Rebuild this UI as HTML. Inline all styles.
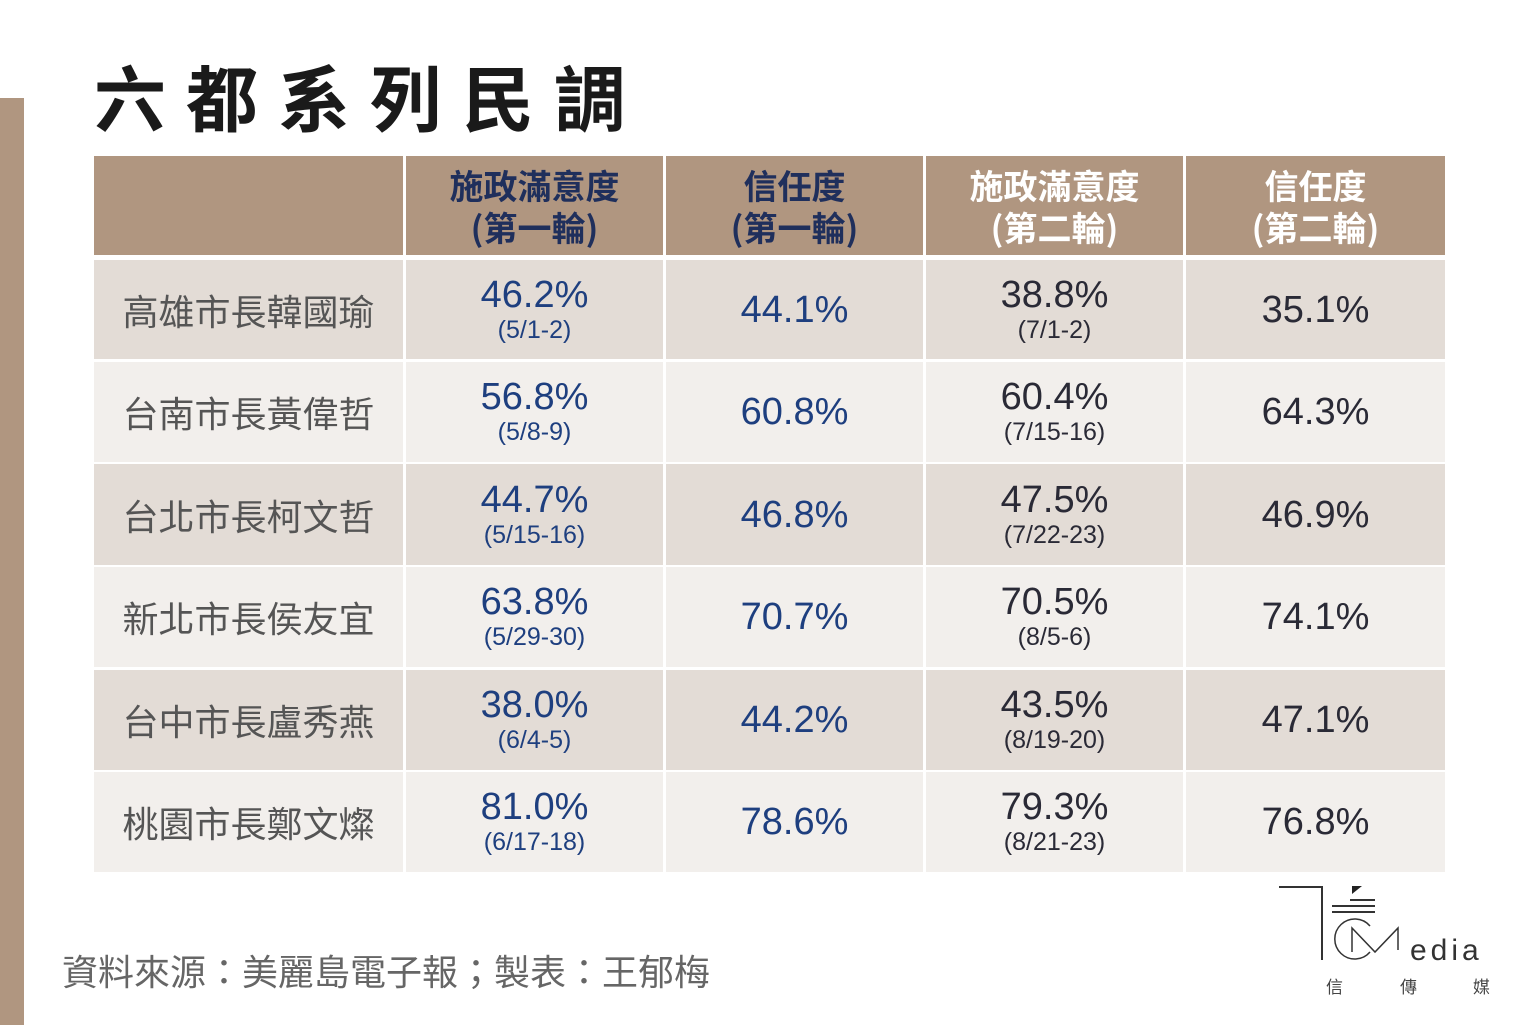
<!DOCTYPE html>
<html><head><meta charset="utf-8"><style>
*{margin:0;padding:0;box-sizing:border-box}
body{width:1536px;height:1025px;background:#fff;position:relative;overflow:hidden;font-family:"Liberation Sans","Noto Sans CJK TC",sans-serif}
.bar{position:absolute;left:0;top:98px;width:24px;height:927px;background:#b09680}
.title{position:absolute;left:94px;top:50px;font-size:72px;font-weight:bold;letter-spacing:20px;color:#1a1a1a;line-height:90px;font-family:"Noto Sans CJK TC",sans-serif}
.c{position:absolute;display:flex;flex-direction:column;align-items:center;justify-content:center;text-align:center}
.h{background:#b09680;font-size:34px;font-weight:bold;line-height:42px;font-family:"Noto Sans CJK TC",sans-serif}
.v{font-size:38px;line-height:40px}
.v small{font-size:25px;line-height:30px;display:block}
.n{font-size:36px;color:#555;font-family:"Noto Sans CJK TC",sans-serif}
.foot{position:absolute;left:62px;top:944px;font-size:36px;color:#666;font-family:"Noto Sans CJK TC",sans-serif;white-space:nowrap}
</style></head><body>
<div class="bar"></div>
<div class="title">六都系列民調</div>
<div id="t"></div>
<div class="foot">資料來源：美麗島電子報；製表：王郁梅</div>
<svg style="position:absolute;left:1270px;top:870px" width="260" height="150">
<polyline points="9,17 52,17 52,90" fill="none" stroke="#333" stroke-width="2"/>
<polygon points="82,16 92,16 82,24" fill="#222"/>
<line x1="80" y1="30" x2="105" y2="30" stroke="#333" stroke-width="2"/>
<line x1="62" y1="36" x2="105" y2="36" stroke="#333" stroke-width="2"/>
<line x1="62" y1="42" x2="105" y2="42" stroke="#333" stroke-width="2"/>
<path d="M100,56 A20,20 0 1 0 100,82" fill="none" stroke="#333" stroke-width="1.5"/>
<polyline points="82,82 82,58 105,82 128,58 128,80" fill="none" stroke="#333" stroke-width="1.5"/>
<text x="140" y="90" font-size="30" fill="#333" font-family="Liberation Sans" letter-spacing="4">edia</text>
<text x="56" y="123" font-size="17" fill="#444" font-family="Noto Sans CJK TC">信</text>
<text x="130" y="123" font-size="17" fill="#444" font-family="Noto Sans CJK TC">傳</text>
<text x="203" y="123" font-size="17" fill="#444" font-family="Noto Sans CJK TC">媒</text>
</svg>
<script>
const cx=[[94,309],[406,257],[666,257],[926,257],[1186,259]];
const ry=[[260,99],[362,100],[464,101],[567,100],[670,100],[772,100]];
const hd=["","施政滿意度<br>(第一輪)","信任度<br>(第一輪)","施政滿意度<br>(第二輪)","信任度<br>(第二輪)"];
const hc=["","#1f2f5c","#1f2f5c","#fff","#fff"];
const data=[
["高雄市長韓國瑜","46.2%|5/1-2","44.1%","38.8%|7/1-2","35.1%"],
["台南市長黃偉哲","56.8%|5/8-9","60.8%","60.4%|7/15-16","64.3%"],
["台北市長柯文哲","44.7%|5/15-16","46.8%","47.5%|7/22-23","46.9%"],
["新北市長侯友宜","63.8%|5/29-30","70.7%","70.5%|8/5-6","74.1%"],
["台中市長盧秀燕","38.0%|6/4-5","44.2%","43.5%|8/19-20","47.1%"],
["桃園市長鄭文燦","81.0%|6/17-18","78.6%","79.3%|8/21-23","76.8%"]];
let h="";
for(let j=0;j<5;j++)h+=`<div class="c h" style="left:${cx[j][0]}px;top:156px;width:${cx[j][1]}px;height:99px;color:${hc[j]}">${hd[j]}</div>`;
data.forEach((r,i)=>{const bg=i%2?"#f2efec":"#e3dcd6";
r.forEach((s,j)=>{let cls,inner,col;
if(j==0){cls="n";inner=s;col="#555"}else{cls="v";const p=s.split("|");inner=p[0]+(p[1]?`<small>(${p[1]})</small>`:"");col=j<3?"#1e3f7f":"#2a2a36"}
h+=`<div class="c ${cls}" style="left:${cx[j][0]}px;top:${ry[i][0]}px;width:${cx[j][1]}px;height:${ry[i][1]}px;background:${bg};color:${col}">${inner}</div>`;});});
document.getElementById("t").innerHTML=h;
</script>
</body></html>
